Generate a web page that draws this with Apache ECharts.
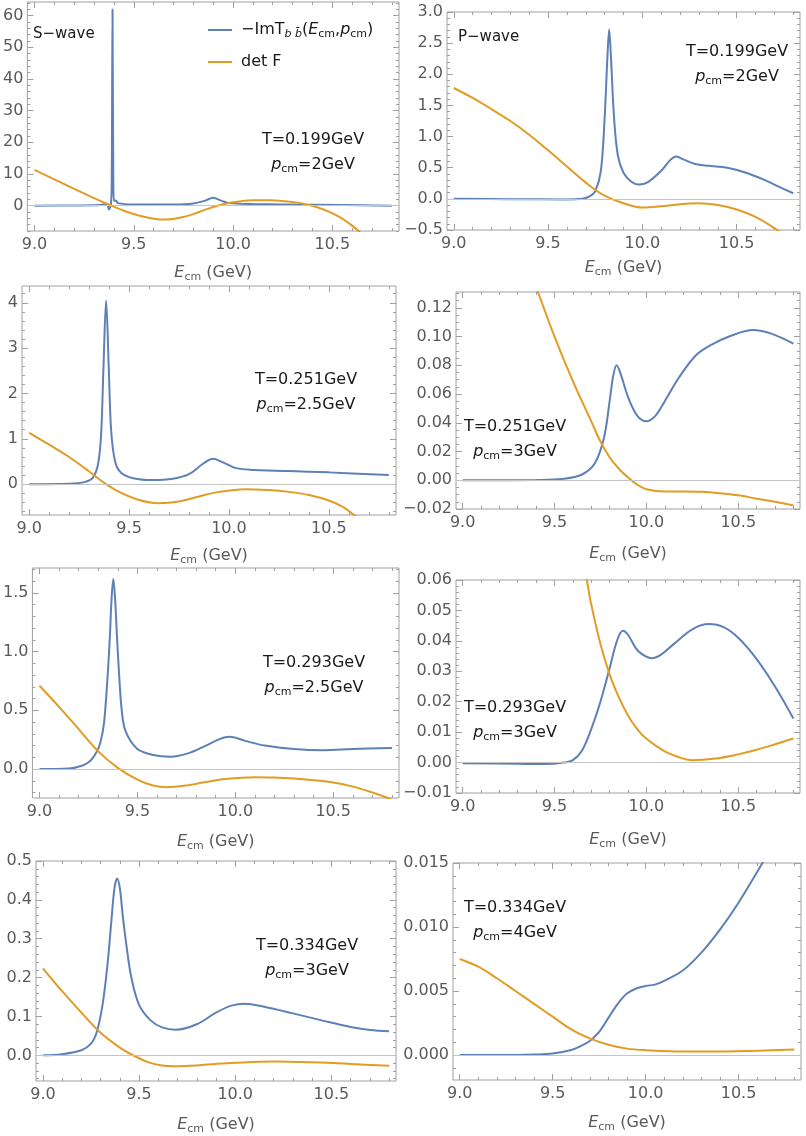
<!DOCTYPE html>
<html>
<head>
<meta charset="utf-8">
<script src="https://cdn.jsdelivr.net/npm/echarts@6/dist/echarts.min.js"></script>
<style>
html, body { margin: 0; padding: 0; background: #fff; }
#main { width: 806px; height: 1136px; }
</style>
</head>
<body>
<div id="main"></div>
<script>
// x axis (E_cm) ticks, same for every panel
var xMajor = [9.0, 9.5, 10.0, 10.5];
var xMin = 8.964, xMax = 10.836;

// S-wave, T=0.199, p=2
var sT199Im = [[9.0,0],[9.2,0.05],[9.33,0.2],[9.365,0.5],[9.375,-1.2],[9.385,0.5],[9.389,8],[9.393,62],[9.397,8],[9.401,1.5],[9.41,1.6],[9.42,0.8],[9.5,0.4],[9.7,0.4],[9.8,0.7],[9.86,1.6],[9.9,2.5],[9.94,1.6],[9.98,0.8],[10.1,0.5],[10.4,0.3],[10.8,0]];
var sT199Det = [[9.0,11.3],[9.1,8.3],[9.2,5.3],[9.3,2.4],[9.38,0.2],[9.45,-1.6],[9.52,-3.0],[9.6,-4.1],[9.66,-4.4],[9.75,-3.6],[9.83,-2.0],[9.9,-0.4],[9.96,0.6],[10.03,1.3],[10.1,1.7],[10.18,1.7],[10.26,1.4],[10.34,0.8],[10.42,-0.4],[10.48,-1.8],[10.54,-3.7],[10.6,-6.3],[10.66,-9.5]];
// P-wave, T=0.199, p=2
var pT199Im = [[9.0,0],[9.3,-0.005],[9.6,-0.01],[9.68,0],[9.72,0.04],[9.75,0.12],[9.78,0.45],[9.8,1.3],[9.815,2.3],[9.824,2.72],[9.833,2.3],[9.85,1.3],[9.87,0.7],[9.9,0.42],[9.94,0.28],[9.98,0.23],[10.03,0.27],[10.1,0.45],[10.15,0.63],[10.18,0.68],[10.22,0.63],[10.28,0.56],[10.35,0.53],[10.45,0.5],[10.55,0.42],[10.65,0.3],[10.72,0.2],[10.8,0.09]];
var pT199Det = [[9.0,1.78],[9.1,1.62],[9.2,1.44],[9.3,1.25],[9.4,1.03],[9.5,0.78],[9.6,0.52],[9.7,0.26],[9.8,0.05],[9.9,-0.07],[10.0,-0.14],[10.1,-0.12],[10.2,-0.085],[10.3,-0.07],[10.4,-0.1],[10.5,-0.17],[10.6,-0.29],[10.7,-0.47],[10.76,-0.6]];
// S-wave, T=0.251, p=2.5
var sT251Im = [[9.0,0],[9.2,0.01],[9.28,0.05],[9.32,0.15],[9.345,0.45],[9.36,1.1],[9.372,2.6],[9.385,4.05],[9.398,2.6],[9.41,1.2],[9.43,0.5],[9.46,0.25],[9.52,0.13],[9.62,0.09],[9.72,0.12],[9.8,0.22],[9.87,0.45],[9.92,0.56],[9.97,0.48],[10.03,0.36],[10.1,0.32],[10.3,0.29],[10.5,0.26],[10.8,0.2]];
var sT251Det = [[9.0,1.13],[9.1,0.87],[9.2,0.6],[9.3,0.28],[9.385,0.0],[9.45,-0.17],[9.55,-0.35],[9.65,-0.42],[9.75,-0.38],[9.85,-0.27],[9.95,-0.17],[10.08,-0.11],[10.2,-0.13],[10.3,-0.17],[10.4,-0.24],[10.5,-0.36],[10.57,-0.5],[10.62,-0.66],[10.66,-0.8]];
// P-wave, T=0.251, p=3
var pT251Im = [[9.0,0],[9.4,0.0002],[9.55,0.001],[9.65,0.004],[9.72,0.012],[9.77,0.03],[9.8,0.055],[9.82,0.073],[9.838,0.08],[9.86,0.074],[9.9,0.058],[9.95,0.045],[10.0,0.041],[10.05,0.045],[10.1,0.055],[10.18,0.072],[10.27,0.087],[10.35,0.094],[10.45,0.1],[10.58,0.1045],[10.68,0.102],[10.8,0.095]];
var pT251Det = [[9.38,0.142],[9.41,0.131],[9.5,0.1],[9.6,0.069],[9.7,0.041],[9.75,0.027],[9.8,0.016],[9.85,0.008],[9.9,0.002],[9.95,-0.003],[10.0,-0.0062],[10.1,-0.0078],[10.2,-0.0078],[10.3,-0.008],[10.4,-0.009],[10.5,-0.0105],[10.6,-0.0128],[10.7,-0.015],[10.8,-0.0175]];
// S-wave, T=0.293, p=2.5
var sT293Im = [[9.0,0],[9.15,0.005],[9.22,0.03],[9.26,0.07],[9.29,0.14],[9.31,0.22],[9.33,0.4],[9.35,0.85],[9.36,1.15],[9.368,1.45],[9.377,1.62],[9.386,1.45],[9.395,1.15],[9.405,0.85],[9.42,0.5],[9.44,0.32],[9.5,0.17],[9.58,0.12],[9.67,0.105],[9.77,0.14],[9.85,0.2],[9.92,0.255],[9.97,0.275],[10.05,0.24],[10.15,0.2],[10.3,0.17],[10.45,0.16],[10.6,0.17],[10.8,0.18]];
var sT293Det = [[9.0,0.71],[9.1,0.53],[9.2,0.34],[9.3,0.15],[9.4,0.01],[9.5,-0.09],[9.58,-0.14],[9.65,-0.155],[9.75,-0.14],[9.85,-0.11],[9.95,-0.085],[10.1,-0.07],[10.2,-0.072],[10.3,-0.08],[10.4,-0.095],[10.5,-0.115],[10.6,-0.15],[10.7,-0.2],[10.8,-0.26]];
// P-wave, T=0.293, p=3
var pT293Im = [[9.0,-0.0002],[9.3,-0.0004],[9.45,-0.0005],[9.55,0],[9.6,0.0008],[9.65,0.004],[9.7,0.011],[9.75,0.02],[9.8,0.031],[9.84,0.04],[9.872,0.0433],[9.9,0.042],[9.95,0.037],[10.0,0.0348],[10.03,0.0343],[10.08,0.0355],[10.15,0.039],[10.25,0.0438],[10.34,0.0455],[10.42,0.0445],[10.5,0.041],[10.6,0.034],[10.7,0.025],[10.8,0.0145]];
var pT293Det = [[9.65,0.068],[9.676,0.06],[9.7,0.052],[9.75,0.039],[9.8,0.029],[9.85,0.0215],[9.9,0.0155],[9.95,0.011],[10.0,0.0078],[10.1,0.0037],[10.2,0.0013],[10.25,0.0008],[10.3,0.0009],[10.4,0.0015],[10.5,0.0027],[10.6,0.0042],[10.7,0.006],[10.8,0.0079]];
// S-wave, T=0.334, p=3
var sT334Im = [[9.0,0],[9.1,0.003],[9.2,0.013],[9.25,0.03],[9.28,0.06],[9.31,0.13],[9.335,0.23],[9.355,0.34],[9.372,0.43],[9.386,0.455],[9.4,0.43],[9.415,0.36],[9.435,0.28],[9.46,0.2],[9.5,0.13],[9.56,0.09],[9.62,0.072],[9.69,0.066],[9.8,0.08],[9.9,0.11],[9.98,0.128],[10.05,0.133],[10.15,0.125],[10.3,0.108],[10.45,0.09],[10.6,0.073],[10.7,0.065],[10.8,0.062]];
var sT334Det = [[9.0,0.224],[9.1,0.165],[9.2,0.11],[9.3,0.058],[9.4,0.02],[9.47,0.0],[9.55,-0.018],[9.62,-0.026],[9.68,-0.028],[9.8,-0.026],[9.9,-0.022],[10.0,-0.019],[10.2,-0.016],[10.4,-0.018],[10.6,-0.022],[10.8,-0.027]];
// P-wave, T=0.334, p=4
var pT334Im = [[9.0,0],[9.3,0.00001],[9.4,0.00004],[9.5,0.00012],[9.6,0.0004],[9.65,0.0007],[9.7,0.0011],[9.75,0.0018],[9.8,0.0029],[9.85,0.004],[9.9,0.0048],[9.95,0.0052],[10.0,0.0054],[10.05,0.0055],[10.1,0.0058],[10.2,0.0066],[10.3,0.008],[10.4,0.0098],[10.5,0.0119],[10.6,0.0143],[10.66,0.0158]];
var pT334Det = [[9.0,0.0075],[9.1,0.0069],[9.2,0.006],[9.3,0.005],[9.4,0.004],[9.5,0.003],[9.6,0.002],[9.7,0.0013],[9.8,0.0008],[9.9,0.0005],[10.0,0.00038],[10.2,0.00027],[10.4,0.00028],[10.6,0.00034],[10.8,0.00044]];

var FONT = 'DejaVu Sans';
var BLUE = '#5E81B5', ORANGE = '#E19C24', FRAME = '#a0a0a0', LABEL = '#5a5a5a', INK = '#1a1a1a';

// layout of the 8 frames (pixels) and the y ranges
var panels = [
    {im: sT199Im, det: sT199Det, l: 26, t: 2, r: 399, b: 231, ymin: -8, ymax: 64.3, yMajor: [0,10,20,30,40,50,60], ystep: 2, dig: 0, T: 'T=0.199GeV', p: '2GeV', tx: 313, ty: 140, gap: 32},
    {im: pT199Im, det: pT199Det, l: 447, t: 12, r: 800, b: 230, ymin: -0.5, ymax: 3.0, yMajor: [-0.5,0,0.5,1,1.5,2,2.5,3], ystep: 0.1, dig: 1, T: 'T=0.199GeV', p: '2GeV', tx: 737, ty: 52, gap: 28},
    {im: sT251Im, det: sT251Det, l: 22, t: 286, r: 396, b: 515, ymin: -0.68, ymax: 4.37, yMajor: [0,1,2,3,4], ystep: 0.2, dig: 0, T: 'T=0.251GeV', p: '2.5GeV', tx: 306, ty: 380, gap: 31},
    {im: pT251Im, det: pT251Det, l: 456, t: 292, r: 800, b: 509, ymin: -0.02, ymax: 0.131, yMajor: [-0.02,0,0.02,0.04,0.06,0.08,0.1,0.12], ystep: 0.005, dig: 2, T: 'T=0.251GeV', p: '3GeV', tx: 515, ty: 427, gap: 35},
    {im: sT293Im, det: sT293Det, l: 29, t: 568, r: 399, b: 798, ymin: -0.247, ymax: 1.713, yMajor: [0,0.5,1,1.5], ystep: 0.1, dig: 1, T: 'T=0.293GeV', p: '2.5GeV', tx: 314, ty: 663, gap: 34},
    {im: pT293Im, det: pT293Det, l: 456, t: 580, r: 800, b: 793, ymin: -0.01, ymax: 0.06, yMajor: [-0.01,0,0.01,0.02,0.03,0.04,0.05,0.06], ystep: 0.002, dig: 2, T: 'T=0.293GeV', p: '3GeV', tx: 515, ty: 708, gap: 37},
    {im: sT334Im, det: sT334Det, l: 36, t: 861, r: 396, b: 1081, ymin: -0.066, ymax: 0.5, yMajor: [0,0.1,0.2,0.3,0.4,0.5], ystep: 0.02, dig: 1, T: 'T=0.334GeV', p: '3GeV', tx: 307, ty: 946, gap: 34},
    {im: pT334Im, det: pT334Det, l: 453, t: 863, r: 801, b: 1080, ymin: -0.00195, ymax: 0.015, yMajor: [0,0.005,0.01,0.015], ystep: 0.001, dig: 3, T: 'T=0.334GeV', p: '4GeV', tx: 515, ty: 908, gap: 33}
];

function minorTicks(min, max, step, majors) {
    var out = [];
    for (var k = Math.ceil(min / step - 1e-9); k * step <= max + 1e-9; k++) {
        var v = +(k * step).toFixed(6);
        if (majors.indexOf(v) < 0) out.push(v);
    }
    return out;
}

function fmt(v, dig) {
    var s = Math.abs(v).toFixed(dig);
    return (v < -1e-12 ? '\u2212' : '') + s;
}

var sub = {fontSize: 11, fontFamily: FONT, color: LABEL, padding: [9, 0, 0, 0]};
var it = {fontSize: 16, fontFamily: FONT, color: LABEL, fontStyle: 'italic'};

function tickAxis(gi, pos, min, max, values, len, label) {
    return {
        type: 'value', gridIndex: gi, position: pos, min: min, max: max,
        axisLine: {show: false, onZero: false},
        splitLine: {show: false},
        axisTick: {show: true, inside: true, length: len, customValues: values, lineStyle: {color: FRAME, width: 1}},
        axisLabel: label ? label : {show: false}
    };
}

var grid = [], xAxis = [], yAxis = [], series = [], graphic = [];
var xMinor = minorTicks(xMin, xMax, 0.1, xMajor);

panels.forEach(function (p, i) {
    grid.push({left: p.l, top: p.t, width: p.r - p.l, height: p.b - p.t, show: true,
        borderColor: FRAME, borderWidth: 1, backgroundColor: 'transparent'});
    var yMinor = minorTicks(p.ymin, p.ymax, p.ystep, p.yMajor);

    var xMain = tickAxis(i, 'bottom', xMin, xMax, xMajor, 6, {
        customValues: xMajor, margin: 6, color: LABEL, fontSize: 16, fontFamily: FONT,
        formatter: function (v) { return v.toFixed(1); }
    });
    xMain.name = '{it|E}{sub|cm} (GeV)';
    xMain.nameLocation = 'middle';
    xMain.nameGap = p.gap;
    xMain.nameTextStyle = {fontSize: 16, fontFamily: FONT, color: LABEL, rich: {it: it, sub: sub}};
    xAxis.push(xMain,
        tickAxis(i, 'bottom', xMin, xMax, xMinor, 3),
        tickAxis(i, 'top', xMin, xMax, xMajor, 6),
        tickAxis(i, 'top', xMin, xMax, xMinor, 3));

    yAxis.push(tickAxis(i, 'left', p.ymin, p.ymax, p.yMajor, 6, {
            customValues: p.yMajor, margin: 4, color: LABEL, fontSize: 16, fontFamily: FONT,
            formatter: function (v) { return fmt(v, p.dig); }
        }),
        tickAxis(i, 'left', p.ymin, p.ymax, yMinor, 3),
        tickAxis(i, 'right', p.ymin, p.ymax, p.yMajor, 6),
        tickAxis(i, 'right', p.ymin, p.ymax, yMinor, 3));

    series.push({
        name: 'imT', type: 'line', xAxisIndex: 4 * i, yAxisIndex: 4 * i, data: p.im,
        showSymbol: false, smooth: 0.35, clip: true,
        lineStyle: {color: BLUE, width: 2}, itemStyle: {color: BLUE}, z: 3,
        markLine: {silent: true, symbol: 'none', label: {show: false}, animation: false,
            lineStyle: {color: '#c4c4c4', width: 1, type: 'solid'}, data: [{yAxis: 0}]}
    }, {
        name: 'detF', type: 'line', xAxisIndex: 4 * i, yAxisIndex: 4 * i, data: p.det,
        showSymbol: false, smooth: 0.35, clip: true,
        lineStyle: {color: ORANGE, width: 2}, itemStyle: {color: ORANGE}, z: 4
    });

    // T and p_cm labels
    graphic.push({type: 'text', x: p.tx, y: p.ty, silent: true, style: {
        text: p.T, fill: INK, fontSize: 16, fontFamily: FONT,
        align: 'center', verticalAlign: 'middle', textAlign: 'center', textVerticalAlign: 'middle'}});
    graphic.push({type: 'text', x: p.tx, y: p.ty + 25, silent: true, style: {
        text: '{i|p}{s|cm}=' + p.p, fill: INK, fontSize: 16, fontFamily: FONT,
        align: 'center', verticalAlign: 'middle', textAlign: 'center', textVerticalAlign: 'middle',
        rich: {i: {fontSize: 16, fontFamily: FONT, fontStyle: 'italic', fill: INK},
               s: {fontSize: 11, fontFamily: FONT, fill: INK, padding: [9, 0, 0, 0]}}}});
});

graphic.push({type: 'text', x: 33, y: 34, silent: true, style: {
    text: 'S\u2212wave', fill: INK, fontSize: 15, fontFamily: FONT,
    align: 'left', verticalAlign: 'middle', textAlign: 'left', textVerticalAlign: 'middle'}});
graphic.push({type: 'text', x: 458, y: 37, silent: true, style: {
    text: 'P\u2212wave', fill: INK, fontSize: 15, fontFamily: FONT,
    align: 'left', verticalAlign: 'middle', textAlign: 'left', textVerticalAlign: 'middle'}});

var chart = echarts.init(document.getElementById('main'));
chart.setOption({
    animation: false,
    backgroundColor: '#fff',
    textStyle: {fontFamily: FONT},
    grid: grid,
    xAxis: xAxis,
    yAxis: yAxis,
    legend: {
        data: ['imT', 'detF'], orient: 'vertical', left: 203, top: 17,
        icon: 'rect', itemWidth: 24, itemHeight: 2, itemGap: 14, selectedMode: false,
        formatter: function (name) {
            return name === 'imT'
                ? '\u2212ImT{si|b b\u0304}({ti|E}{s|cm},{ti|p}{s|cm})'
                : 'det F';
        },
        textStyle: {fontSize: 16, fontFamily: FONT, color: INK, padding: [0, 0, 0, 4],
            rich: {
                ti: {fontSize: 16, fontFamily: FONT, color: INK, fontStyle: 'italic'},
                s: {fontSize: 11, fontFamily: FONT, color: INK, padding: [9, 0, 0, 0]},
                si: {fontSize: 11, fontFamily: FONT, color: INK, fontStyle: 'italic', padding: [9, 0, 0, 0]}
            }}
    },
    graphic: graphic,
    series: series
});
</script>
</body>
</html>
